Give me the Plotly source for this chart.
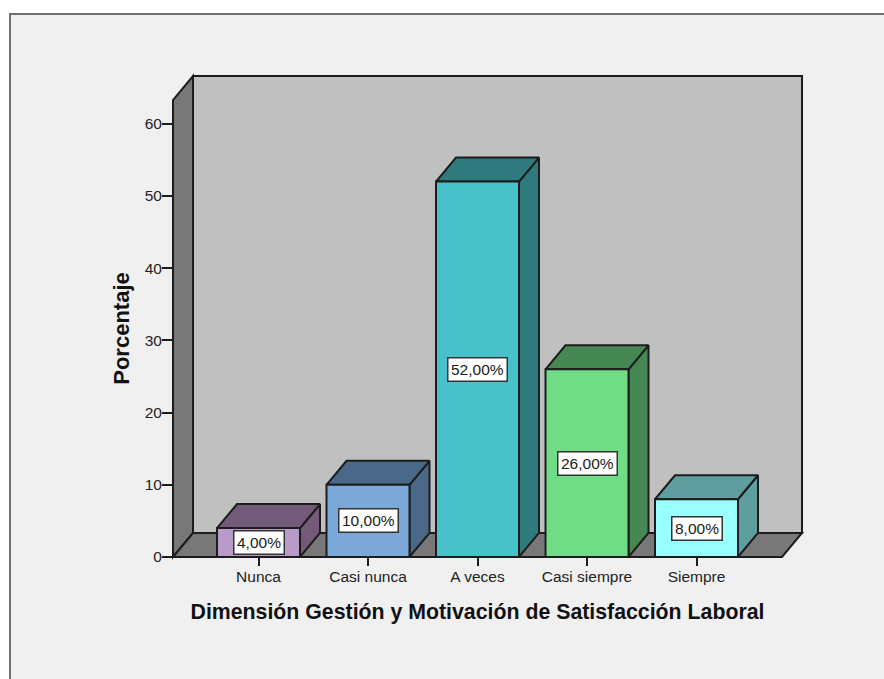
import plotly.graph_objects as go

categories = ["Nunca", "Casi nunca", "A veces", "Casi siempre", "Siempre"]
percentages = [4, 10, 52, 26, 8]
value_labels = ["4,00%", "10,00%", "52,00%", "26,00%", "8,00%"]
y_ticks = [0, 10, 20, 30, 40, 50, 60]
x_title = "Dimensión Gestión y Motivación de Satisfacción Laboral"
y_title = "Porcentaje"

front_colors = ["#B89BC9", "#7BA8D8", "#47C2C8", "#70DC86", "#99FFFF"]
shade_colors = ["#735A78", "#4A6888", "#2E7A7E", "#468854", "#5F9E9E"]

W, H = 884, 679
L, R, T, B = 173, 782, 100, 557   # front plane of the 3-D box
X_UNIT = 109.5
Y_UNIT = 7.22
X0_PX = 258.5
DX_PX, DY_PX = 20, 24
DX = DX_PX / X_UNIT
DY = DY_PX / Y_UNIT
HALF = 41.5 / X_UNIT
X_MIN = (L - X0_PX) / X_UNIT
X_MAX = (R - X0_PX) / X_UNIT
Y_MAX = (B - T) / Y_UNIT
EDGE = "#1c1c1c"
PW, PH = R - L, B - T
PDX, PDY = DX_PX / PW, DY_PX / PH

fig = go.Figure()


def face(xs, ys, fill, width=2):
    fig.add_trace(go.Scatter(
        x=xs + xs[:1], y=ys + ys[:1], mode="lines", fill="toself",
        fillcolor=fill, line=dict(color=EDGE, width=width), cliponaxis=False,
        hoverinfo="skip", showlegend=False))


def box_face(points, fill):
    path = "M " + " L ".join(f"{x} {y}" for x, y in points) + " Z"
    return dict(type="path", path=path, layer="below", xref="paper", yref="paper",
                fillcolor=fill, line=dict(color=EDGE, width=2))


# bars
for i, v in enumerate(percentages):
    a, b = i - HALF, i + HALF
    face([b, b + DX, b + DX, b], [0, DY, v + DY, v], shade_colors[i])
    face([a, b, b + DX, a + DX], [v, v, v + DY, v + DY], shade_colors[i])
    face([a, b, b, a], [0, 0, v, v], front_colors[i])
    fig.add_annotation(
        x=i, y=v / 2, text=value_labels[i], showarrow=False,
        font=dict(family="Liberation Sans", size=15.5, color="#1a1a1a"),
        bgcolor="#FFFFFF", bordercolor="#333333", borderwidth=1.5, borderpad=2.5)

frame = dict(
    type="rect", layer="below", xref="paper", yref="paper",
    x0=(10 - L) / PW, x1=(W + 10 - L) / PW,
    y0=(B - H - 10) / PH, y1=(B - 14) / PH,
    fillcolor="#F0F0F0", line=dict(color="#707070", width=2))

fig.update_layout(
    width=W, height=H,
    margin=dict(l=L, r=W - R, t=T, b=H - B, autoexpand=False),
    paper_bgcolor="#FFFFFF", plot_bgcolor="rgba(0,0,0,0)",
    font=dict(family="Liberation Sans", color="#222222"),
    showlegend=False,
    xaxis=dict(
        range=[X_MIN, X_MAX], tickmode="array",
        tickvals=list(range(len(categories))), ticktext=categories,
        ticks="outside", ticklen=8, tickwidth=1.5, tickcolor=EDGE,
        tickfont=dict(size=15.5), showgrid=False, zeroline=False,
        showline=False, ticklabelstandoff=-3, title=dict(
            text=x_title, standoff=20,
            font=dict(size=21.3, color="#111111", weight="bold"))),
    yaxis=dict(
        range=[0, Y_MAX], tickmode="array", tickvals=y_ticks,
        ticks="outside", ticklen=10, tickwidth=1.5, tickcolor=EDGE,
        tickfont=dict(size=15.5), showgrid=False, zeroline=False,
        showline=False, ticklabelstandoff=-3, title=dict(
            text=y_title, standoff=8,
            font=dict(size=22, color="#111111", weight="bold"))),
    shapes=[
        frame,
        box_face([(PDX, PDY), (1 + PDX, PDY), (1 + PDX, 1 + PDY), (PDX, 1 + PDY)], "#C0C0C0"),
        box_face([(0, 0), (PDX, PDY), (PDX, 1 + PDY), (0, 1)], "#787878"),
        box_face([(0, 0), (1, 0), (1 + PDX, PDY), (PDX, PDY)], "#787878"),
    ],
)

fig.write_html("out.html", config={"displayModeBar": False},
               post_script="document.body.style.margin='0';document.body.style.overflow='hidden';")
